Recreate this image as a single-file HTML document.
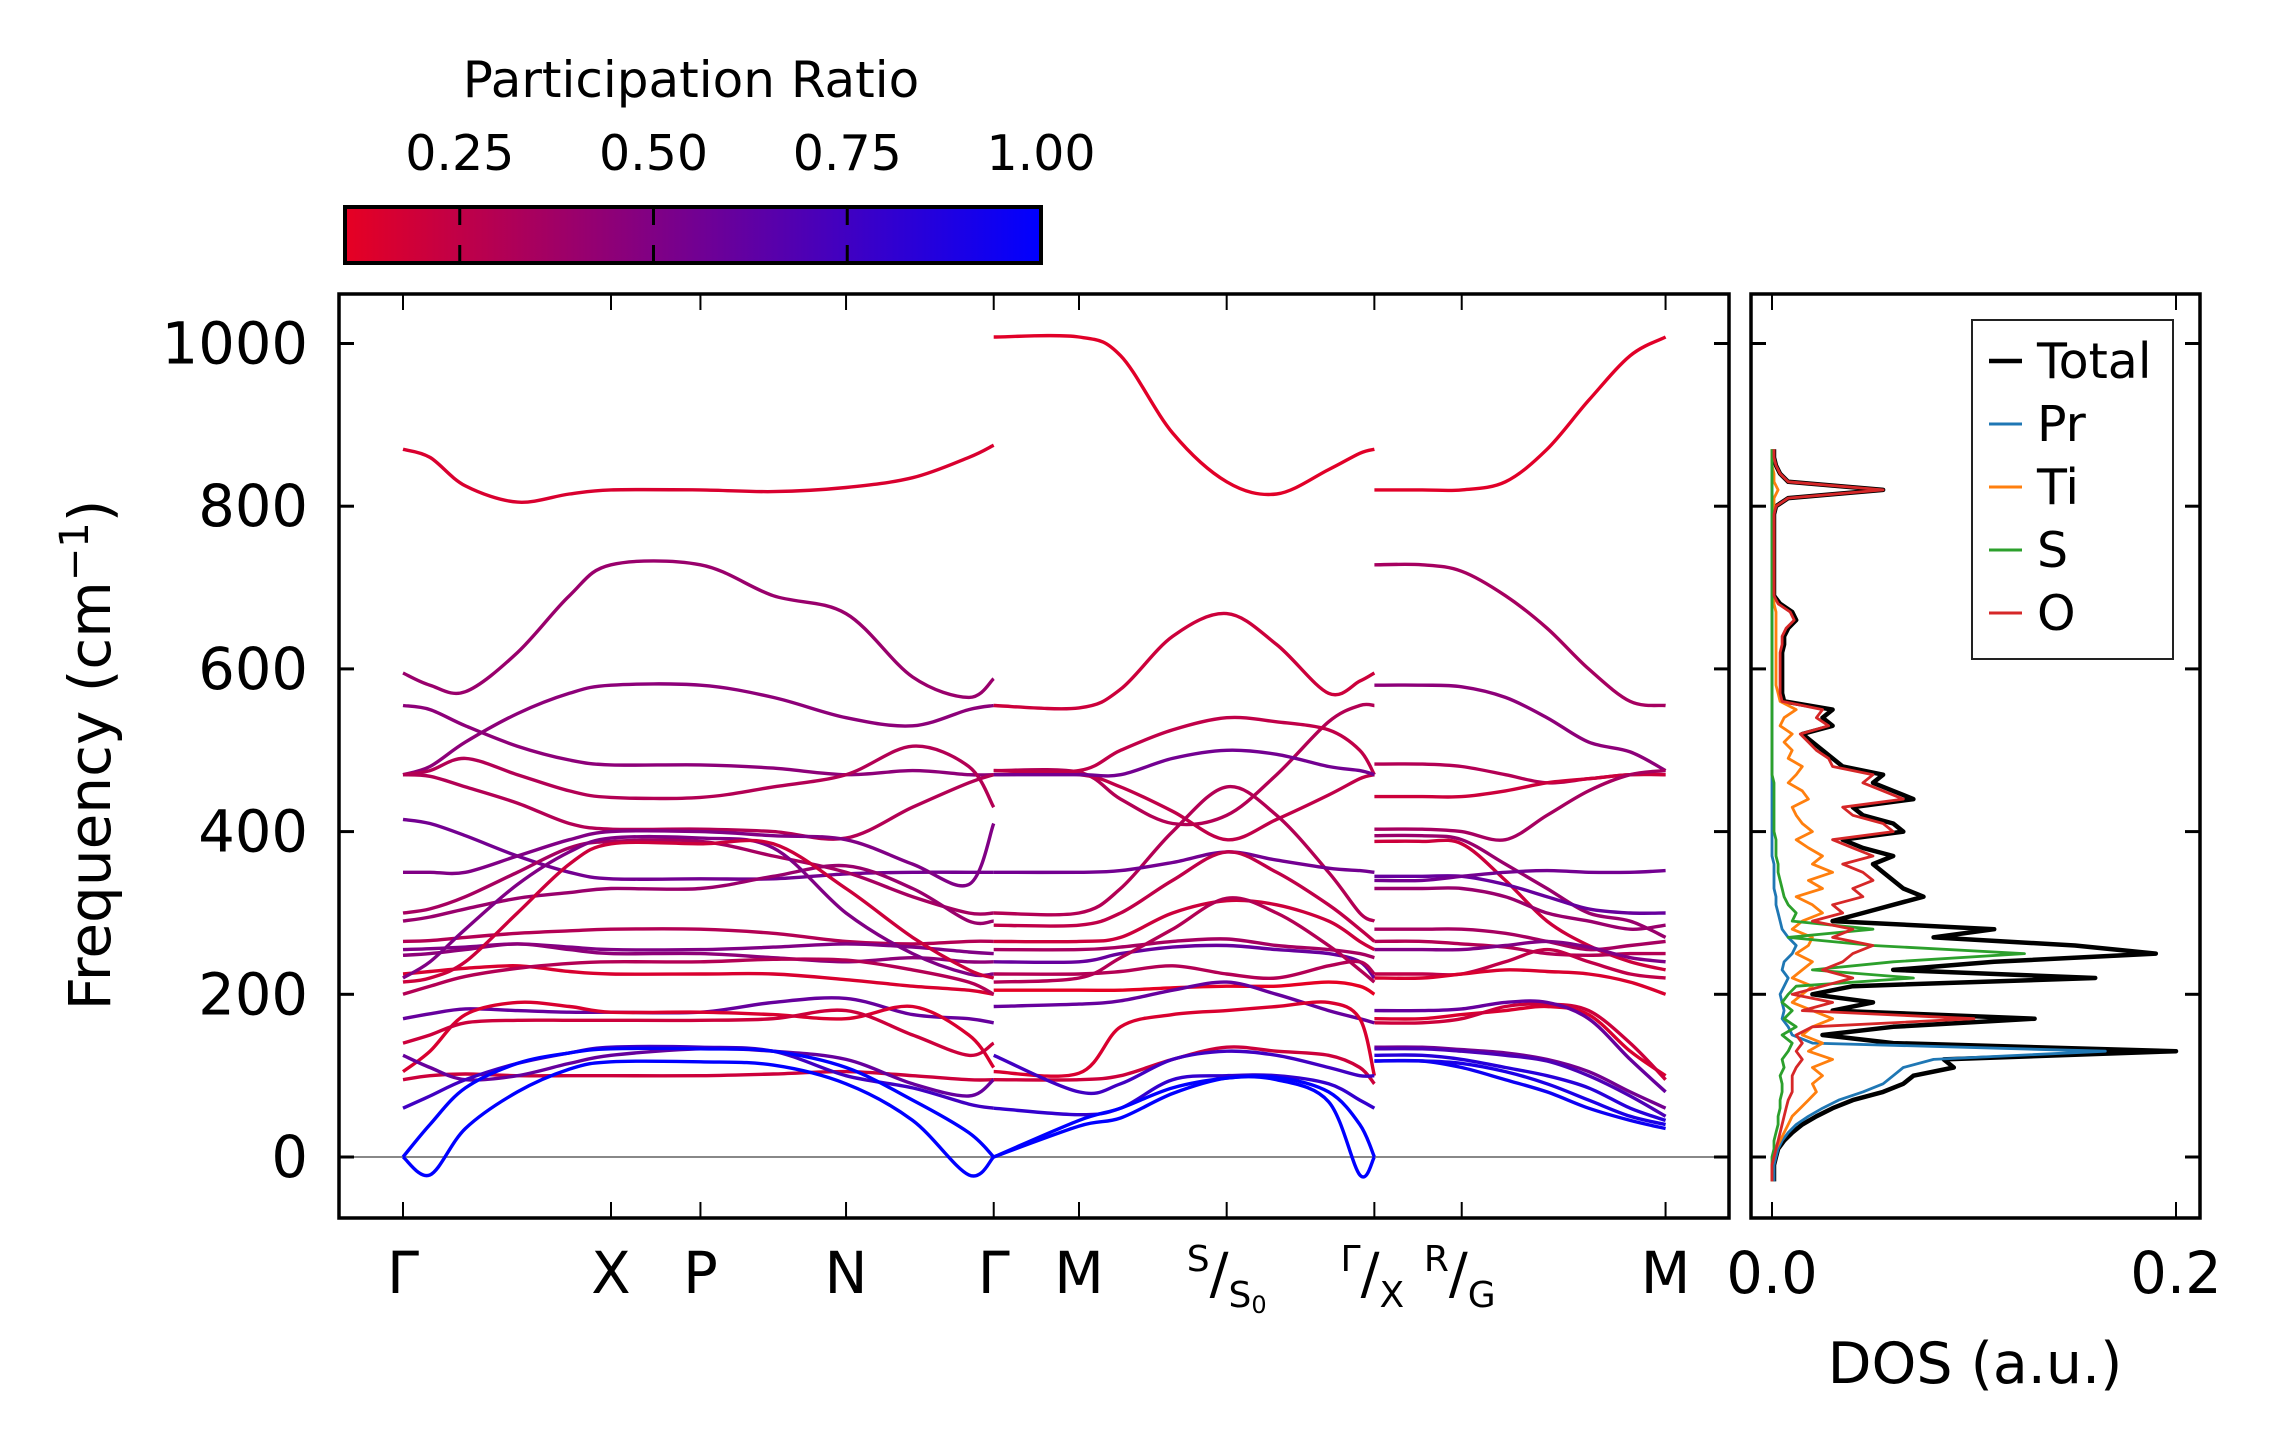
<!DOCTYPE html>
<html><head><meta charset="utf-8"><style>
html,body{margin:0;padding:0;background:#fff}
svg{display:block;font-family:"DejaVu Sans","Liberation Sans",sans-serif}
</style></head><body>
<svg id="fig" width="2282" height="1455" viewBox="0 0 2282 1455" xmlns="http://www.w3.org/2000/svg">
<defs>
<linearGradient id="cmap" x1="0" x2="1" y1="0" y2="0">
<stop offset="0" stop-color="rgb(230,0,35)"/><stop offset="1" stop-color="rgb(0,0,255)"/>
</linearGradient>
<clipPath id="mainClip"><rect x="341" y="296" width="1386" height="920"/></clipPath>
<clipPath id="dosClip"><rect x="1753" y="296" width="445" height="920"/></clipPath>
</defs>
<g id="colorbar">
<text x="691" y="97" font-size="50" text-anchor="middle">Participation Ratio</text>
<rect x="345" y="207" width="696" height="56" fill="url(#cmap)" stroke="#000" stroke-width="4"/>
</g>
<g id="mainAx"></g>
<g id="dosAx"></g>
<text transform="translate(110,755) rotate(-90)" font-size="58" text-anchor="middle">Frequency (cm<tspan font-size="40" dy="-22">−1</tspan><tspan dy="22">)</tspan></text>
<text x="1975" y="1383" font-size="57" text-anchor="middle">DOS (a.u.)</text>
<g id="legend"></g>
</svg>
<script>
// ---- band-structure data ----
const hsLabels = ["Γ","X","P","N","Γ","M","S","Γ/X","R/G","M"];
const hsK = [0,1.0,1.43,2.13,2.84,3.25,3.96,4.67,5.09,6.07];
const yTicks = [0,200,400,600,800,1000];
const cbTicks = [0.25,0.5,0.75,1.0];
const k1 = [0,0.13,0.3,0.55,0.8,1.0,1.43,1.78,2.13,2.45,2.72,2.84];
const piece1Bands = [
[870,860,825,805,815,820,820,818,823,835,860,875],
[595,580,572,620,690,728,728,690,668,590,565,588],
[470,480,510,545,570,580,580,565,540,530,550,555],
[555,550,530,505,488,482,482,478,470,475,470,470],
[470,475,490,470,450,442,442,455,470,505,480,430],
[470,468,455,435,410,403,403,400,392,430,460,470],
[415,410,395,370,350,342,342,342,348,350,350,350],
[350,350,350,370,390,400,400,395,390,360,335,410],
[300,305,320,350,380,388,388,370,350,320,300,300],
[290,295,305,318,325,330,330,345,358,330,290,290],
[265,266,270,275,278,280,280,275,265,262,265,265],
[255,256,258,262,258,255,255,258,262,258,252,250],
[248,250,255,262,255,250,250,245,240,245,240,240],
[225,228,232,235,228,225,225,225,218,210,205,200],
[220,240,280,335,375,392,392,380,300,250,225,225],
[215,220,240,300,360,385,385,385,330,270,230,220],
[200,210,222,232,238,240,240,243,242,230,215,200],
[170,176,182,180,178,178,178,190,195,175,170,165],
[105,130,175,190,185,178,178,175,170,185,150,110],
[140,150,165,168,168,168,168,170,180,150,125,140],
[95,100,102,100,100,100,100,102,105,100,95,95],
[125,110,95,100,115,125,133,130,120,90,75,95],
[60,75,95,115,128,135,135,130,100,85,65,60],
[0,40,85,115,128,133,133,130,110,70,30,0],
[0,-22,35,80,108,117,117,113,90,45,-22,0]];
const piece1PR = [0.15,0.4,0.45,0.45,0.3,0.3,0.55,0.5,0.35,0.4,0.3,0.5,0.45,0.15,0.5,0.2,0.3,0.6,0.15,0.2,0.2,0.6,0.75,1.0,1.0];
const k2 = [2.84,3.25,3.45,3.7,3.96,4.2,4.45,4.6,4.67];
const piece2Bands = [
[1008,1008,985,890,830,815,845,865,870],
[555,552,575,640,668,630,570,585,595],
[475,473,440,410,420,470,535,555,555],
[475,475,500,525,540,535,525,500,470],
[470,470,455,425,390,415,445,465,470],
[470,470,470,490,500,495,480,475,470],
[300,300,330,400,455,420,350,300,290],
[350,350,352,362,375,365,355,352,350],
[285,285,300,340,375,350,310,280,265],
[265,265,270,300,315,310,290,265,255],
[255,255,258,265,268,260,255,250,245],
[240,240,250,258,260,255,250,240,220],
[225,225,228,235,225,220,235,240,225],
[215,220,245,280,318,300,260,230,215],
[205,205,205,208,210,210,215,210,200],
[185,188,192,205,215,200,180,170,165],
[105,103,160,175,180,185,190,170,100],
[95,95,100,120,135,130,125,110,90],
[125,80,90,120,130,125,110,100,100],
[60,52,60,95,100,100,90,70,60],
[0,45,60,85,97,98,80,40,0],
[0,38,48,78,97,95,68,-22,0]];
const piece2PR = [0.12,0.2,0.3,0.25,0.25,0.55,0.3,0.55,0.25,0.2,0.35,0.6,0.3,0.3,0.1,0.6,0.15,0.2,0.75,0.8,1.0,1.0];
const k3 = [4.67,4.9,5.09,5.3,5.5,5.7,5.9,6.07];
const piece3Bands = [
[820,820,820,830,870,930,985,1008],
[728,728,720,690,650,600,560,555],
[580,580,578,565,540,510,498,475],
[483,483,480,470,460,465,470,470],
[443,443,443,450,460,465,470,470],
[403,403,400,390,420,450,470,475],
[395,395,390,360,330,300,290,270],
[388,388,385,340,290,260,240,230],
[345,345,345,335,320,305,300,300],
[330,330,330,320,300,290,280,285],
[340,340,345,350,352,350,350,352],
[280,280,280,275,265,255,260,265],
[265,265,262,258,250,248,250,250],
[255,255,255,260,265,258,245,240],
[225,225,225,240,255,240,225,220],
[220,220,225,230,228,225,215,200],
[170,170,175,180,185,175,130,100],
[165,165,170,185,188,180,140,95],
[180,180,182,190,190,170,120,80],
[135,135,132,128,120,105,80,60],
[133,133,130,125,118,100,75,50],
[125,125,120,110,100,85,60,45],
[118,118,115,105,90,70,50,40],
[118,118,110,95,80,60,45,35]];
const piece3PR = [0.12,0.35,0.45,0.3,0.2,0.35,0.4,0.2,0.6,0.4,0.55,0.35,0.3,0.5,0.25,0.15,0.15,0.2,0.6,0.55,0.7,0.85,0.9,0.95];
// ---- DOS data (frequency grid from -30 to 870, step 10) ----
const dosTotal = [.001,.001,.001,.002,.003,.006,.010,.015,.022,.030,
.040,.055,.065,.07,.09,.085,.2,.06,.025,.06,
.13,.03,.05,.02,.04,.16,.06,.11,.19,.15,
.08,.11,.03,.045,.06,.075,.065,.06,.055,.05,
.06,.045,.035,.065,.06,.045,.04,.07,.06,.05,
.055,.035,.03,.025,.02,.015,.03,.025,.03,.006,
.005,.005,.005,.005,.005,.005,.006,.006,.008,.012,
.01,.004,.001,.001,.001,.001,.001,.001,.001,.001,
.001,.001,.001,.002,.008,.055,.008,.004,.002,.001,.001];
const dosPr = [.001,.001,.001,.002,.003,.005,.008,.012,.018,.025,
.033,.045,.055,.06,.065,.08,.165,.02,.01,.008,
.005,.006,.005,.004,.006,.008,.005,.006,.01,.012,
.008,.005,.004,.003,.002,.002,.001,.001,.001,.001,
0,0,0,0,0,0,0,0,0,0,0,0,0,0,0,0,0,0,0,0,0,0,0,0,0,0,0,0,0,0,0,0,0,0,0,0,0,0,0,0,0,0,0,0,0,0,0,0,0,0,0];
const dosTi = [0,0,0,.001,.002,.004,.006,.008,.010,.014,
.018,.022,.02,.025,.02,.03,.018,.025,.015,.02,
.03,.02,.01,.015,.02,.01,.015,.02,.012,.018,
.02,.01,.015,.025,.02,.012,.025,.018,.03,.02,
.025,.018,.012,.02,.015,.012,.01,.018,.015,.008,
.012,.015,.008,.01,.006,.01,.004,.006,.012,.004,
.003,.002,.002,.002,.002,.002,.002,.002,.002,.002,
.002,.001,.001,.001,.001,.001,.001,.001,.001,.001,
.001,.001,.001,.001,.001,.003,.001,.001,0,0,0];
const dosS = [0,0,0,0,.001,.001,.002,.003,.003,.004,
.004,.005,.005,.004,.006,.005,.008,.01,.005,.012,
.006,.01,.005,.008,.012,.07,.02,.06,.125,.05,
.008,.05,.01,.012,.008,.006,.005,.004,.003,.003,
.002,.002,.002,.001,.001,.001,.001,.001,.001,.001,
0,0,0,0,0,0,0,0,0,0,0,0,0,0,0,0,0,0,0,0,0,0,0,0,0,0,0,0,0,0,0,0,0,0,0,0,0,0,0,0,0];
const dosO = [0,0,0,.001,.002,.003,.004,.005,.006,.007,
.008,.01,.01,.01,.012,.015,.012,.015,.012,.02,
.1,.015,.03,.01,.025,.04,.025,.035,.04,.05,
.03,.04,.02,.035,.03,.045,.04,.05,.045,.035,
.05,.04,.03,.06,.055,.04,.035,.065,.055,.045,
.05,.03,.028,.022,.018,.014,.028,.022,.025,.005,
.004,.004,.004,.004,.004,.004,.005,.005,.007,.011,
.009,.003,.001,.001,.001,.001,.001,.001,.001,.001,
.001,.001,.001,.002,.008,.055,.008,.004,.002,.001,.001];
const dosNames = ["Total","Pr","Ti","S","O"];
const dosColors = ["#000000","#1f77b4","#ff7f0e","#2ca02c","#d62728"];
const dosXTicks = [0.0,0.2];

const NS = "http://www.w3.org/2000/svg";
const xK = k => 403 + k*208;
const yF = f => 1157 - f*0.8135;
const xD = v => 1772 + v*2020;
const cbX = p => 266 + p*775;
function prColor(p){const t=Math.max(0,Math.min(1,(p-0.1)/0.9));return `rgb(${Math.round(230*(1-t))},0,${Math.round(35+220*t)})`;}
function mk(tag, attrs, parent){const e=document.createElementNS(NS,tag);for(const a in attrs)e.setAttribute(a,attrs[a]);parent.appendChild(e);return e;}
function smoothPath(xs, ys){
  let d=`M${xs[0].toFixed(1)},${ys[0].toFixed(1)}`;
  for(let i=0;i<xs.length-1;i++){
    const x0=xs[Math.max(0,i-1)],y0=ys[Math.max(0,i-1)],x1=xs[i],y1=ys[i],x2=xs[i+1],y2=ys[i+1],x3=xs[Math.min(xs.length-1,i+2)],y3=ys[Math.min(xs.length-1,i+2)];
    const c1x=x1+(x2-x0)/6,c1y=y1+(y2-y0)/6,c2x=x2-(x3-x1)/6,c2y=y2-(y3-y1)/6;
    d+=` C${c1x.toFixed(1)},${c1y.toFixed(1)} ${c2x.toFixed(1)},${c2y.toFixed(1)} ${x2.toFixed(1)},${y2.toFixed(1)}`;
  }
  return d;
}
const main=document.getElementById('mainAx');
const dos=document.getElementById('dosAx');
const cb=document.getElementById('colorbar');

// colorbar ticks
cbTicks.forEach(t=>{
  const x=cbX(t);
  if(t<1){
    const a=mk('line',{x1:x,x2:x,y1:207,y2:225,stroke:'#000','stroke-width':3},cb);
    
    
    const b=mk('line',{x1:x,x2:x,y1:245,y2:263,stroke:'#000','stroke-width':3},cb);
    
    
  }
  const tx=mk('text',{x:x,y:170,'font-size':49,'text-anchor':'middle'},cb);
  tx.textContent=t.toFixed(2);
  
  
});

// zero line
const zl=mk('line',{x1:341,x2:1727,y1:yF(0),y2:yF(0),stroke:'#888','stroke-width':2},main);



// bands
const bandG=mk('g',{'clip-path':'url(#mainClip)'},main);


[[k1,piece1Bands,piece1PR],[k2,piece2Bands,piece2PR],[k3,piece3Bands,piece3PR]].forEach(([ks,bands,prs])=>{
  bands.forEach((b,i)=>{
    const p=mk('path',{d:smoothPath(ks.map(xK),b.map(yF)),fill:'none',stroke:prColor(prs[i]),'stroke-width':3.4},bandG);
    
    
  });
});

// main axes frame + ticks
const mf=mk('rect',{x:339,y:294,width:1390,height:924,fill:'none',stroke:'#000','stroke-width':3.5},main);


yTicks.forEach(f=>{
  const y=yF(f);
  mk('line',{x1:339,x2:354,y1:y,y2:y,stroke:'#000','stroke-width':3},main);
  mk('line',{x1:1714,x2:1729,y1:y,y2:y,stroke:'#000','stroke-width':3},main);
  const t=mk('text',{x:308,y:y+20,'font-size':57.5,'text-anchor':'end'},main);
  t.textContent=f;
  
  
});
hsK.forEach((k,i)=>{
  const x=xK(k);
  mk('line',{x1:x,x2:x,y1:1218,y2:1202,stroke:'#000','stroke-width':2},main);
  mk('line',{x1:x,x2:x,y1:294,y2:310,stroke:'#000','stroke-width':2},main);
  const lab=hsLabels[i];
  let t;
  if(lab.includes('/')){
    const parts={"Γ/X":["Γ","X"],"R/G":["R","G"]}[lab];
    t=mk('text',{x:x-2,y:1293,'font-size':56,'text-anchor':'middle'},main);
    t.innerHTML=`<tspan font-size="36" dy="-22">${parts[0]}</tspan><tspan dy="22">/</tspan><tspan font-size="36" dy="14">${parts[1]}</tspan>`;
  } else if(lab==="S"){
    t=mk('text',{x:x,y:1293,'font-size':56,'text-anchor':'middle'},main);
    t.innerHTML=`<tspan font-size="36" dy="-22">S</tspan><tspan dy="22">/</tspan><tspan font-size="36" dy="14">S</tspan><tspan font-size="24" dy="6">0</tspan>`;
  } else {
    t=mk('text',{x:x,y:1293,'font-size':57.5,'text-anchor':'middle'},main);
    t.textContent=lab;
  }
  
  
});

// DOS
const df=mk('rect',{x:1751,y:294,width:449,height:924,fill:'none',stroke:'#000','stroke-width':3.5},dos);


yTicks.forEach(f=>{
  const y=yF(f);
  mk('line',{x1:1751,x2:1766,y1:y,y2:y,stroke:'#000','stroke-width':3},dos);
  mk('line',{x1:2185,x2:2200,y1:y,y2:y,stroke:'#000','stroke-width':3},dos);
});
dosXTicks.forEach(v=>{
  const x=xD(v);
  mk('line',{x1:x,x2:x,y1:1218,y2:1202,stroke:'#000','stroke-width':2},dos);
  mk('line',{x1:x,x2:x,y1:294,y2:310,stroke:'#000','stroke-width':2},dos);
  const t=mk('text',{x:x,y:1293,'font-size':57.5,'text-anchor':'middle'},dos);
  t.textContent=v.toFixed(1);
  
  
});
const dosG=mk('g',{'clip-path':'url(#dosClip)'},dos);
[dosTotal,dosPr,dosTi,dosS,dosO].forEach((s,si)=>{
  const pts=s.map((v,i)=>`${xD(v).toFixed(1)},${yF(-30+10*i).toFixed(1)}`).join(' ');
  const pl=mk('polyline',{points:pts,fill:'none',stroke:dosColors[si],'stroke-width':si===0?4.5:2.8,'stroke-linejoin':'round'},dosG);
  
  
});

// legend
const lg=document.getElementById('legend');
const lb=mk('rect',{x:1972,y:320,width:201,height:339,fill:'#fff',stroke:'#222','stroke-width':2},lg);


dosNames.forEach((n,i)=>{
  const y=361+i*63;
  const ln=mk('line',{x1:1989,x2:2022,y1:y,y2:y,stroke:dosColors[i],'stroke-width':i===0?4.5:3},lg);
  
  
  const t=mk('text',{x:2037,y:y+17,'font-size':49},lg);
  t.textContent=n;
  
  
});
</script>
</body></html>
